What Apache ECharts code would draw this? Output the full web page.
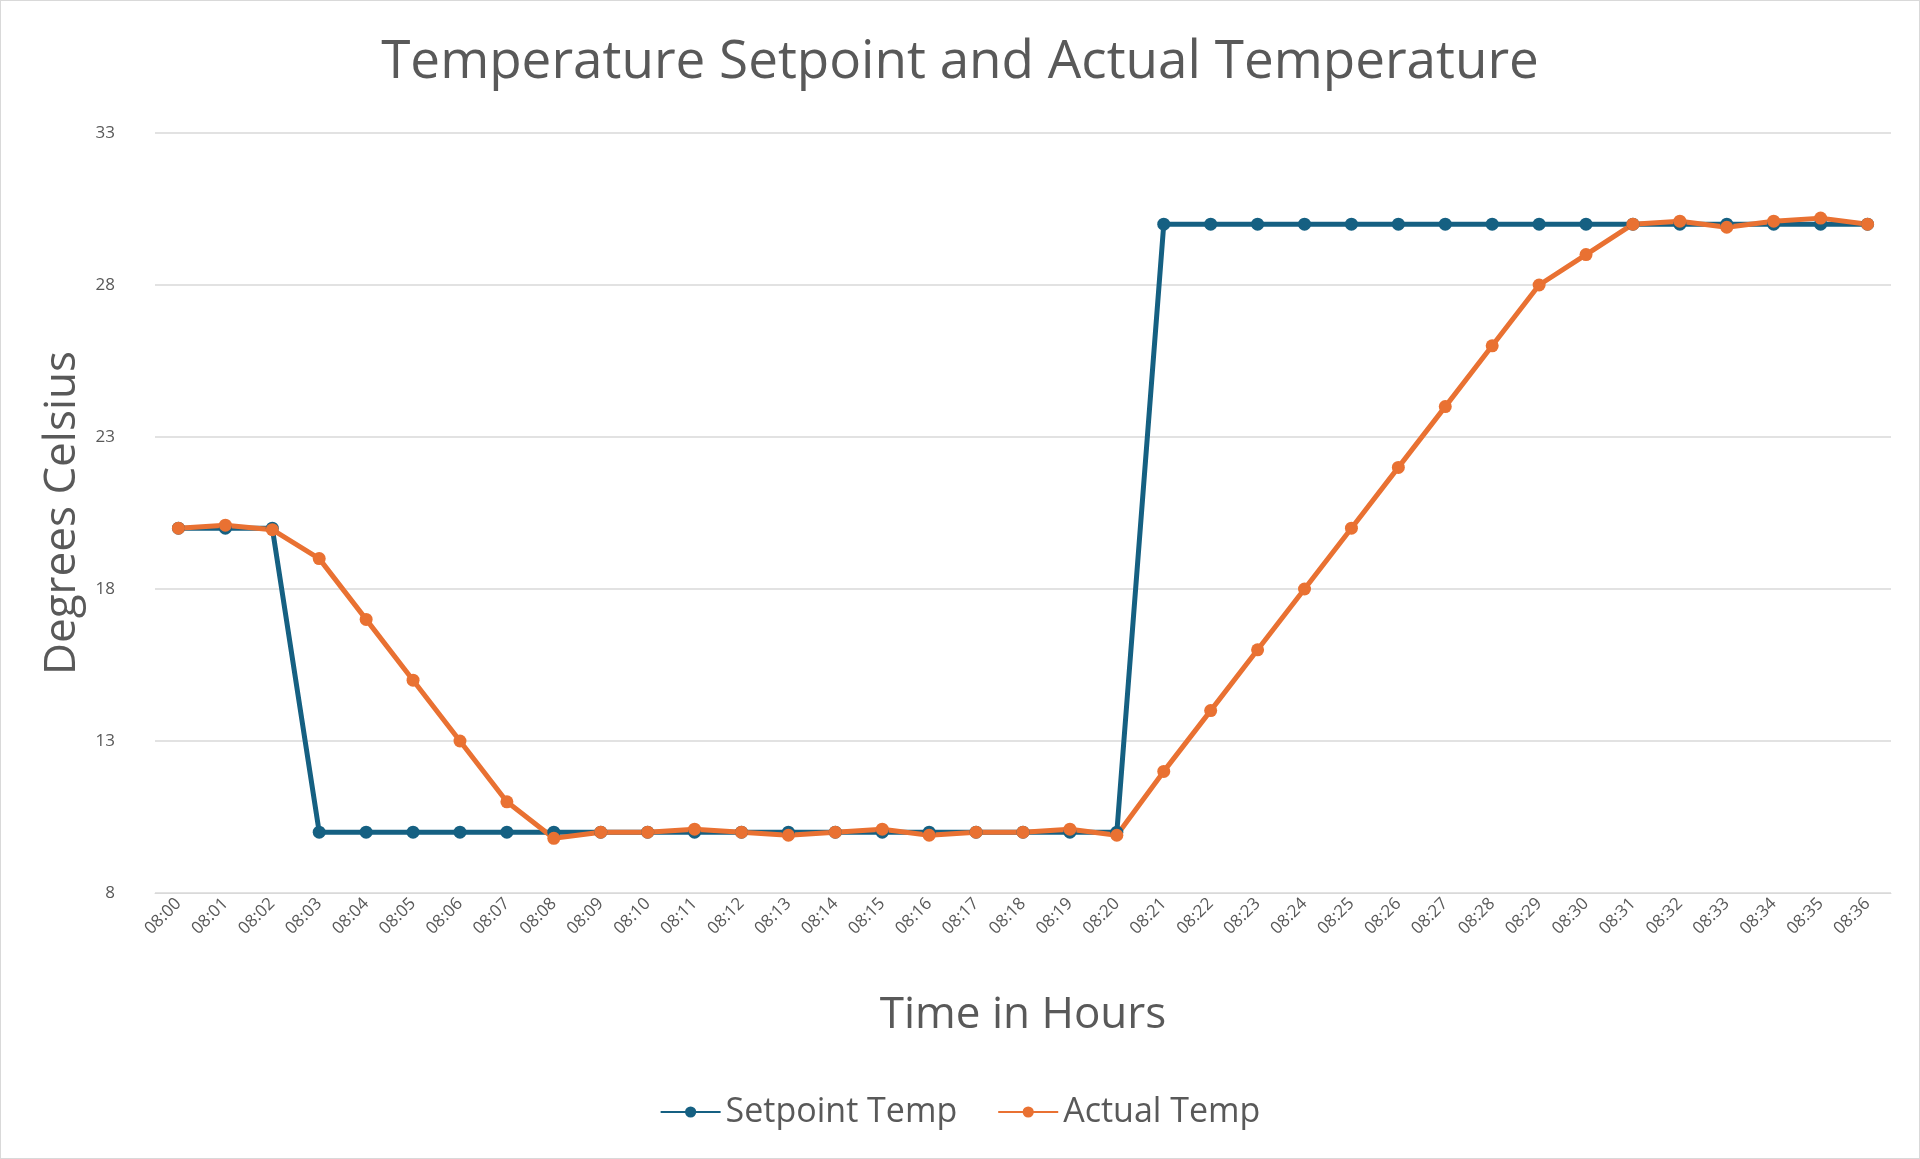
<!DOCTYPE html>
<html>
<head>
<meta charset="utf-8" />
<script src="https://cdn.jsdelivr.net/npm/echarts@6/dist/echarts.min.js"></script>
<style>
html,body{margin:0;padding:0;background:#fff;}
#chart{width:1920px;height:1159px;box-sizing:border-box;border:1px solid #d9d9d9;}
</style>
</head>
<body>
<div id="chart"></div>
<script type="text/javascript">
var times = [];
for (var m = 0; m <= 36; m++) times.push('08:' + (m < 10 ? '0' + m : m));
var setpointTemp = [20,20,20,10,10,10,10,10,10,10,10,10,10,10,10,10,10,10,10,10,10,
                    30,30,30,30,30,30,30,30,30,30,30,30,30,30,30,30];
var actualTemp = [20,20.1,19.95,19,17,15,13,11,9.8,10,10,10.1,10,9.9,10,10.1,9.9,10,10,10.1,9.9,
                  12,14,16,18,20,22,24,26,28,29,30,30.1,29.9,30.1,30.2,30];

var chart = echarts.init(document.getElementById('chart'));
chart.setOption({
  backgroundColor: '#fff',
  title: {
    text: 'Temperature Setpoint and Actual Temperature',
    left: 'center', top: 30,
    textStyle: { fontFamily: 'Open Sans', fontSize: 53, fontWeight: 'normal', color: '#595959' }
  },
  legend: {
    bottom: 24, left: 'center', itemWidth: 60, itemHeight: 14, itemGap: 40,
    textStyle: { fontFamily: 'Open Sans', fontSize: 34, color: '#595959' },
    data: ['Setpoint Temp', 'Actual Temp']
  },
  grid: { left: 154, right: 28, top: 132, bottom: 265 },
  xAxis: {
    type: 'category', data: times, boundaryGap: true,
    name: 'Time in Hours', nameLocation: 'middle', nameGap: 100,
    nameTextStyle: { fontFamily: 'Open Sans', fontSize: 44, color: '#595959' },
    axisLine: { lineStyle: { color: '#d9d9d9' } },
    axisTick: { show: false },
    axisLabel: { rotate: 45, interval: 0, fontSize: 17, color: '#595959', fontFamily: 'Open Sans' }
  },
  yAxis: {
    type: 'value', min: 8, max: 33, interval: 5,
    name: 'Degrees Celsius', nameLocation: 'middle', nameGap: 64,
    nameTextStyle: { fontFamily: 'Open Sans', fontSize: 44, color: '#595959' },
    axisLine: { show: false }, axisTick: { show: false },
    axisLabel: { fontSize: 17, color: '#595959', fontFamily: 'Open Sans', margin: 40 },
    splitLine: { lineStyle: { color: '#d9d9d9', width: 1.5 } }
  },
  series: [
    { name: 'Setpoint Temp', type: 'line', data: setpointTemp, color: '#156082',
      symbol: 'circle', symbolSize: 13, lineStyle: { width: 5 } },
    { name: 'Actual Temp', type: 'line', data: actualTemp, color: '#E97132',
      symbol: 'circle', symbolSize: 13, lineStyle: { width: 5 } }
  ]
});
</script>
</body>
</html>
